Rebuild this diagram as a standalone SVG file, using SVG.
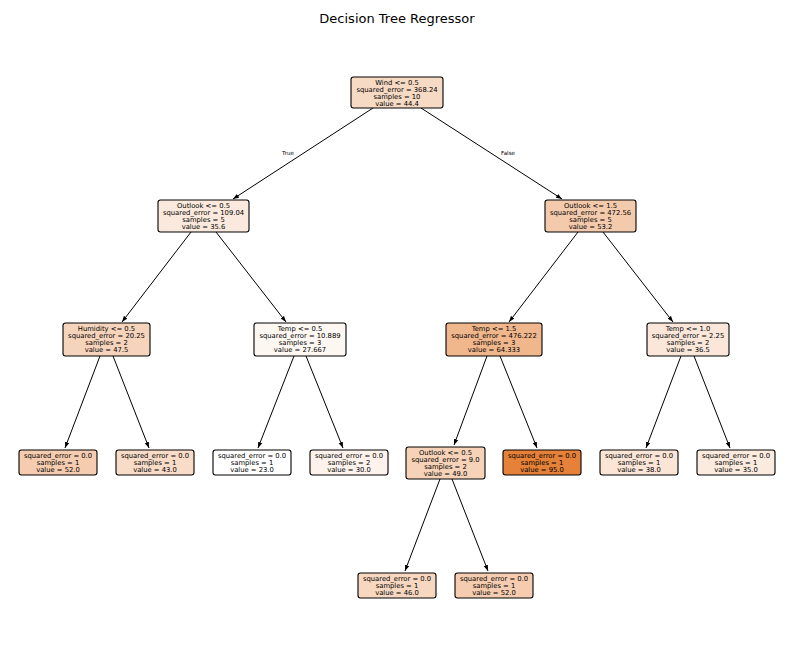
<svg xmlns="http://www.w3.org/2000/svg" width="794" height="658" viewBox="0 0 794 658">
<defs>
<style>
text{font-family:"DejaVu Sans","Liberation Sans",sans-serif;fill:#000}
.t{font-size:6.8px;text-anchor:middle}
.title{font-size:13px;text-anchor:middle}
.lbl{font-size:5.6px;text-anchor:middle}
.n rect{stroke:#000;stroke-width:1.1}
.e line{stroke:#000;stroke-width:1;marker-end:url(#ah)}
</style>
<marker id="ah" markerUnits="userSpaceOnUse" markerWidth="6" markerHeight="6" viewBox="0 0 6 6" refX="6" refY="3" orient="auto">
<path d="M0,0.8 L6,3 L0,5.2 Z" fill="#000"/>
</marker>
</defs>
<rect x="0" y="0" width="794" height="658" fill="#fff" stroke="none"/>
<text class="title" x="397" y="23">Decision Tree Regressor</text>

<g class="e" id="edges">
<line x1="373" y1="108" x2="233" y2="199"/>
<line x1="421" y1="108" x2="562" y2="199"/>
<line x1="191" y1="232" x2="122" y2="322"/>
<line x1="216" y1="232" x2="286" y2="322"/>
<line x1="578" y1="232" x2="509" y2="322"/>
<line x1="603" y1="232" x2="673" y2="322"/>
<line x1="100" y1="356" x2="65" y2="448"/>
<line x1="113" y1="356" x2="149" y2="448"/>
<line x1="294" y1="356" x2="258" y2="448"/>
<line x1="306" y1="356" x2="343" y2="448"/>
<line x1="487" y1="356" x2="454" y2="445"/>
<line x1="500" y1="356" x2="537" y2="448"/>
<line x1="681" y1="356" x2="646" y2="448"/>
<line x1="694" y1="356" x2="730" y2="448"/>
<line x1="440" y1="479" x2="405" y2="571"/>
<line x1="452" y1="479" x2="488" y2="571"/>
<text class="lbl" x="288" y="155">True</text>
<text class="lbl" x="508" y="155">False</text>
</g>

<g class="n" id="n0"><rect x="351" y="77" width="92" height="31" rx="2.5" fill="#f7dac4"/>
<text class="t" x="397" y="85">Wind &lt;= 0.5</text><text class="t" x="397" y="92">squared_error = 368.24</text><text class="t" x="397" y="99">samples = 10</text><text class="t" x="397" y="106">value = 44.4</text></g>

<g class="n" id="n1"><rect x="158" y="200" width="91" height="32" rx="2.5" fill="#fae9dc"/>
<text class="t" x="203.5" y="208">Outlook &lt;= 0.5</text><text class="t" x="203.5" y="215">squared_error = 109.04</text><text class="t" x="203.5" y="222">samples = 5</text><text class="t" x="203.5" y="229">value = 35.6</text></g>

<g class="n" id="n2"><rect x="545" y="200" width="91" height="32" rx="2.5" fill="#f4caac"/>
<text class="t" x="590.5" y="208">Outlook &lt;= 1.5</text><text class="t" x="590.5" y="215">squared_error = 472.56</text><text class="t" x="590.5" y="222">samples = 5</text><text class="t" x="590.5" y="229">value = 53.2</text></g>

<g class="n" id="n3"><rect x="63" y="323" width="87" height="33" rx="2.5" fill="#f6d4bc"/>
<text class="t" x="106.5" y="331">Humidity &lt;= 0.5</text><text class="t" x="106.5" y="338">squared_error = 20.25</text><text class="t" x="106.5" y="345">samples = 2</text><text class="t" x="106.5" y="352">value = 47.5</text></g>

<g class="n" id="n4"><rect x="254" y="323" width="92" height="33" rx="2.5" fill="#fdf7f2"/>
<text class="t" x="300" y="331">Temp &lt;= 0.5</text><text class="t" x="300" y="338">squared_error = 10.889</text><text class="t" x="300" y="345">samples = 3</text><text class="t" x="300" y="352">value = 27.667</text></g>

<g class="n" id="n5"><rect x="446" y="323" width="96" height="33" rx="2.5" fill="#f0b78d"/>
<text class="t" x="494" y="331">Temp &lt;= 1.5</text><text class="t" x="494" y="338">squared_error = 476.222</text><text class="t" x="494" y="345">samples = 3</text><text class="t" x="494" y="352">value = 64.333</text></g>

<g class="n" id="n6"><rect x="647" y="323" width="82" height="33" rx="2.5" fill="#fae7da"/>
<text class="t" x="688" y="331">Temp &lt;= 1.0</text><text class="t" x="688" y="338">squared_error = 2.25</text><text class="t" x="688" y="345">samples = 2</text><text class="t" x="688" y="352">value = 36.5</text></g>

<g class="n" id="n7"><rect x="19" y="450" width="78" height="25" rx="2.5" fill="#f5ccaf"/>
<text class="t" x="58" y="458">squared_error = 0.0</text><text class="t" x="58" y="465">samples = 1</text><text class="t" x="58" y="472">value = 52.0</text></g>

<g class="n" id="n8"><rect x="116" y="450" width="78" height="25" rx="2.5" fill="#f8dcc8"/>
<text class="t" x="155" y="458">squared_error = 0.0</text><text class="t" x="155" y="465">samples = 1</text><text class="t" x="155" y="472">value = 43.0</text></g>

<g class="n" id="n9"><rect x="213" y="450" width="78" height="25" rx="2.5" fill="#ffffff"/>
<text class="t" x="252" y="458">squared_error = 0.0</text><text class="t" x="252" y="465">samples = 1</text><text class="t" x="252" y="472">value = 23.0</text></g>

<g class="n" id="n10"><rect x="310" y="450" width="78" height="25" rx="2.5" fill="#fdf3ec"/>
<text class="t" x="349" y="458">squared_error = 0.0</text><text class="t" x="349" y="465">samples = 2</text><text class="t" x="349" y="472">value = 30.0</text></g>

<g class="n" id="n11"><rect x="406" y="447" width="79" height="32" rx="2.5" fill="#f6d2b8"/>
<text class="t" x="445.5" y="455">Outlook &lt;= 0.5</text><text class="t" x="445.5" y="462">squared_error = 9.0</text><text class="t" x="445.5" y="469">samples = 2</text><text class="t" x="445.5" y="476">value = 49.0</text></g>

<g class="n" id="n12"><rect x="503" y="450" width="78" height="25" rx="2.5" fill="#e58139"/>
<text class="t" x="542" y="458">squared_error = 0.0</text><text class="t" x="542" y="465">samples = 1</text><text class="t" x="542" y="472">value = 95.0</text></g>

<g class="n" id="n13"><rect x="600" y="450" width="78" height="25" rx="2.5" fill="#fae5d6"/>
<text class="t" x="639" y="458">squared_error = 0.0</text><text class="t" x="639" y="465">samples = 1</text><text class="t" x="639" y="472">value = 38.0</text></g>

<g class="n" id="n14"><rect x="697" y="450" width="78" height="25" rx="2.5" fill="#fbeade"/>
<text class="t" x="736" y="458">squared_error = 0.0</text><text class="t" x="736" y="465">samples = 1</text><text class="t" x="736" y="472">value = 35.0</text></g>

<g class="n" id="n15"><rect x="358" y="573" width="78" height="25" rx="2.5" fill="#f7d7c0"/>
<text class="t" x="397" y="581">squared_error = 0.0</text><text class="t" x="397" y="588">samples = 1</text><text class="t" x="397" y="595">value = 46.0</text></g>

<g class="n" id="n16"><rect x="455" y="573" width="78" height="25" rx="2.5" fill="#f5ccaf"/>
<text class="t" x="494" y="581">squared_error = 0.0</text><text class="t" x="494" y="588">samples = 1</text><text class="t" x="494" y="595">value = 52.0</text></g>
</svg>
